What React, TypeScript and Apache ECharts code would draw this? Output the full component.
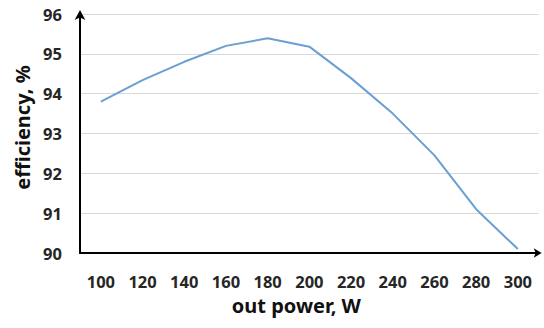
import React, { useEffect, useRef } from "react";
import * as echarts from "echarts";

const categories = ["100", "120", "140", "160", "180", "200", "220", "240", "260", "280", "300"];
const efficiency = [93.8, 94.34, 94.8, 95.2, 95.39, 95.18, 94.39, 93.5, 92.45, 91.1, 90.1];
const yMin = 90;
const yMax = 96;
const yInterval = 1;

export default function App() {
  const ref = useRef<HTMLDivElement>(null);
  useEffect(() => {
    if (!ref.current) return;
    const chart = echarts.init(ref.current, null, { renderer: "svg" });
    const font = "'Noto Sans', sans-serif";
    chart.setOption({
      animation: false,
      backgroundColor: "#ffffff",
      grid: { left: 80, right: 5.3, top: 14, bottom: 75, containLabel: false },
      xAxis: {
        type: "category",
        data: categories,
        boundaryGap: true,
        name: "out power, W",
        nameLocation: "middle",
        nameGap: 42,
        nameTextStyle: {
          fontFamily: font,
          fontSize: 20,
          fontWeight: "bold",
          color: "#111",
          padding: [0, 26, 0, 0],
        },
        axisLine: {
          show: true,
          lineStyle: { color: "#000", width: 2 },
          symbol: ["none", "arrow"],
          symbolSize: [7, 8],
          symbolOffset: [0, 3],
        },
        axisTick: { show: false },
        axisLabel: { fontFamily: font, fontSize: 16.5, fontWeight: "bold", color: "#262626", margin: 20 },
        splitLine: { show: false },
      },
      yAxis: {
        type: "value",
        min: yMin,
        max: yMax,
        interval: yInterval,
        name: "efficiency, %",
        nameLocation: "middle",
        nameGap: 42,
        nameTextStyle: {
          fontFamily: font,
          fontSize: 20,
          fontWeight: "bold",
          color: "#111",
          padding: [0, 0, 0, 12],
        },
        axisLine: {
          show: true,
          lineStyle: { color: "#000", width: 2 },
          symbol: ["none", "arrow"],
          symbolSize: [8, 10],
          symbolOffset: [0, 4],
        },
        axisTick: { show: false },
        axisLabel: { fontFamily: font, fontSize: 16.5, fontWeight: "bold", color: "#262626", margin: 18 },
        splitLine: { show: true, lineStyle: { color: "#d9d9d9", width: 1 } },
      },
      series: [
        {
          type: "line",
          data: efficiency,
          symbol: "none",
          lineStyle: { color: "#6a9fd2", width: 2 },
        },
      ],
    });
    return () => chart.dispose();
  }, []);
  return (
    <div
      ref={ref}
      style={{ position: "fixed", left: 0, top: 0, width: 544, height: 328 }}
    />
  );
}
